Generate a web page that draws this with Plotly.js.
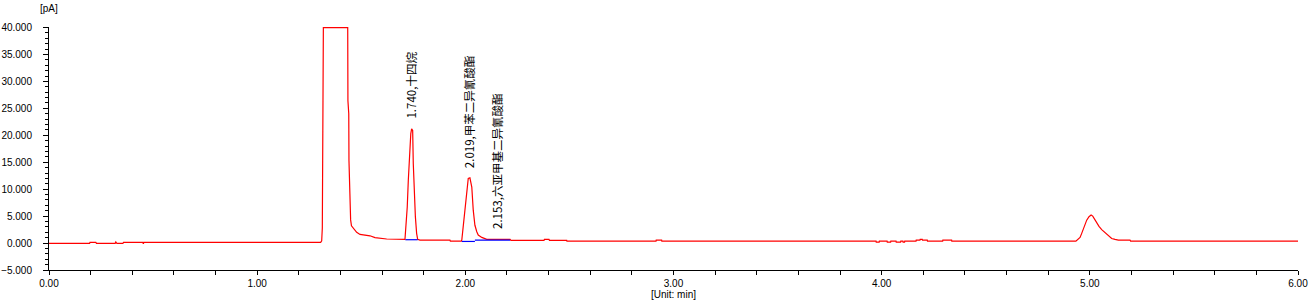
<!DOCTYPE html>
<html>
<head>
<meta charset="utf-8">
<script src="https://cdn.plot.ly/plotly-3.0.1.min.js"></script>
<style>
  html, body { margin: 0; padding: 0; background: #ffffff; }
  #chart { width: 1316px; height: 304px; }
</style>
</head>
<body>
<div id="chart"></div>
<script>
// Chromatogram signal (time in min, signal in pA)
const timeMin = [
  0.000, 0.195, 0.197, 0.225, 0.228, 0.318, 0.321, 0.326, 0.355, 0.358, 0.451, 0.453, 0.456, 1.305,
  1.310, 1.313, 1.318, 1.435, 1.436, 1.440, 1.441, 1.4445, 1.447, 1.449, 1.453, 1.462, 1.478, 1.494,
  1.542, 1.566, 1.622, 1.710,
  1.715, 1.721, 1.726, 1.731, 1.738, 1.742, 1.747, 1.750, 1.755, 1.760, 1.766, 1.771, 1.782,
  1.926, 1.928, 1.981,
  1.983, 1.990, 1.998, 2.007, 2.014, 2.022, 2.031, 2.038, 2.046, 2.055, 2.062, 2.079, 2.103,
  2.215, 2.219, 2.378, 2.380, 2.402, 2.404, 2.487, 2.488, 2.916, 2.917, 2.943, 2.944,
  3.973, 3.974, 3.988, 3.989, 4.026, 4.027, 4.043, 4.044, 4.069, 4.070, 4.091, 4.092, 4.102, 4.103,
  4.110, 4.111, 4.165, 4.166, 4.184, 4.185, 4.195, 4.196, 4.219, 4.220, 4.293, 4.294, 4.336, 4.337,
  4.933, 4.945, 4.953, 4.961, 4.969, 4.977, 4.985, 4.996, 5.006, 5.014, 5.021, 5.033, 5.044, 5.057,
  5.073, 5.089, 5.105, 5.121, 5.137, 5.193, 5.196, 6.000
];
const signalPA = [
  -0.05, -0.05, 0.12, 0.12, -0.05, -0.05, 0.20, -0.05, -0.05, 0.12, 0.12, -0.15, 0.12, 0.12,
  0.40, 2.80, 40.0, 40.0, 26.4, 24.0, 15.3, 9.2, 6.1, 4.3, 3.2, 2.7, 2.0, 1.6,
  1.35, 1.0, 0.75, 0.70,
  3.0, 6.7, 11.6, 16.6, 20.3, 21.2, 20.9, 14.7, 9.2, 4.9, 1.8, 0.70, 0.55,
  0.55, 0.37, 0.37,
  0.55, 3.0, 6.7, 9.8, 12.0, 12.1, 10.4, 6.1, 3.3, 2.1, 1.5, 1.05, 0.70,
  0.70, 0.50, 0.50, 0.70, 0.70, 0.50, 0.50, 0.37, 0.37, 0.55, 0.55, 0.37,
  0.37, 0.18, 0.18, 0.37, 0.37, 0.18, 0.18, 0.37, 0.37, 0.18, 0.18, 0.37, 0.37, 0.18,
  0.18, 0.37, 0.37, 0.55, 0.55, 0.68, 0.68, 0.55, 0.55, 0.37, 0.37, 0.55, 0.55, 0.35,
  0.35, 0.68, 1.05, 1.8, 2.6, 3.5, 4.25, 4.9, 5.2, 5.0, 4.55, 3.8, 3.1, 2.5,
  1.9, 1.35, 0.85, 0.68, 0.55, 0.55, 0.35, 0.35
];

// Integration baselines (blue)
const baselineTime = [1.712, 1.771, null, 1.983, 2.046, null, 2.046, 2.215];
const baselineSignal = [0.62, 0.62, null, 0.30, 0.30, null, 0.55, 0.55];

// Peak labels
const peakTimes = [1.740, 2.019, 2.153];
const peakApex = [21.2, 12.1, 0.7];
const peakNames = ['十四烷', '甲苯二异氰酸酯', '六亚甲基二异氰酸酯'];

const tickFont = { family: 'Liberation Sans, Arial, sans-serif', size: 10, color: '#000000' };

const traces = [
  {
    x: timeMin, y: signalPA, type: 'scatter', mode: 'lines',
    line: { color: '#ff0000', width: 1.2 }, hoverinfo: 'skip'
  },
  {
    x: baselineTime, y: baselineSignal, type: 'scatter', mode: 'lines',
    line: { color: '#0000ff', width: 1.2 }, connectgaps: false, hoverinfo: 'skip'
  }
];

const annotations = peakTimes.map((t, i) => ({
  x: t, y: peakApex[i], xref: 'x', yref: 'y',
  text: t.toFixed(3) + ',' + peakNames[i],
  textangle: -90, showarrow: false,
  xanchor: 'center', yanchor: 'bottom', yshift: 8,
  font: { family: 'Noto Sans CJK SC, sans-serif', size: 11.5, color: '#000000' }
}));
annotations.push({
  text: '[pA]', xref: 'paper', yref: 'paper', x: 0, y: 1.078,
  xanchor: 'center', yanchor: 'middle', showarrow: false, font: tickFont
});

const layout = {
  width: 1316, height: 304,
  margin: { l: 49, r: 18, t: 27, b: 34, pad: 0 },
  paper_bgcolor: '#ffffff', plot_bgcolor: '#ffffff',
  showlegend: false,
  xaxis: {
    range: [0, 6], tick0: 0, dtick: 1, tickformat: '.2f',
    ticks: 'outside', ticklen: 4, tickcolor: '#000', tickwidth: 1,
    minor: { dtick: 0.2, ticks: 'outside', ticklen: 4, tickcolor: '#000', tickwidth: 1, showgrid: false },
    showline: true, linecolor: '#000', linewidth: 1,
    showgrid: false, zeroline: false, tickfont: tickFont,
    title: { text: '[Unit: min]', font: tickFont, standoff: 2 },
    automargin: false, fixedrange: true
  },
  yaxis: {
    range: [-5, 40.1], tick0: 0, dtick: 5, tickformat: '.3f',
    ticks: 'outside', ticklen: 5, tickcolor: '#000', tickwidth: 1,
    minor: { dtick: 1, ticks: 'outside', ticklen: 3, tickcolor: '#000', tickwidth: 1, showgrid: false },
    showline: true, linecolor: '#000', linewidth: 1,
    showgrid: false, zeroline: false, tickfont: tickFont,
    ticklabelstandoff: 9,
    automargin: false, fixedrange: true
  },
  annotations: annotations
};

Plotly.newPlot('chart', traces, layout, { displayModeBar: false, staticPlot: true });
</script>
</body>
</html>
